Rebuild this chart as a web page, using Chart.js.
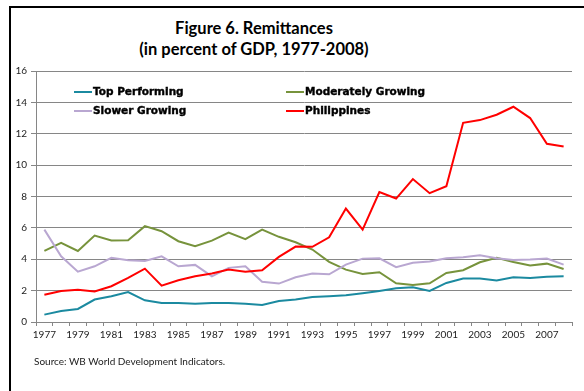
<!DOCTYPE html>
<html>
<head>
<meta charset="utf-8">
<script src="https://cdn.jsdelivr.net/npm/chart.js@4/dist/chart.umd.min.js"></script>
<style>
    html, body { margin: 0; padding: 0; background: #fff; }
    #wrap { position: relative; width: 584px; height: 391px; overflow: hidden; }
    #frame { position: absolute; left: 9px; top: 6px; width: 600px; height: 400px;
             border-left: 2.5px solid #000; border-top: 2.5px solid #000; }
    #title { position: absolute; left: 104px; width: 300px; top: 18px; text-align: center;
             font-family: Lato, sans-serif; font-weight: bold; font-size: 16.5px; line-height: 21px; color: #000; }
    #source { position: absolute; left: 34px; top: 355px; font-family: Lato, sans-serif;
              font-size: 10px; color: #222; }
    canvas { position: absolute; left: 0; top: 0; }
</style>
</head>
<body>
<div id="wrap">
    <div id="frame"></div>
    <div id="title">Figure 6. Remittances<br>(in percent of GDP, 1977-2008)</div>
    <canvas id="remit-chart" width="584" height="391"></canvas>
    <div id="source">Source: WB World Development Indicators.</div>
</div>
<script>
const years = [1977, 1978, 1979, 1980, 1981, 1982, 1983, 1984, 1985, 1986, 1987, 1988, 1989, 1990, 1991, 1992,
    1993, 1994, 1995, 1996, 1997, 1998, 1999, 2000, 2001, 2002, 2003, 2004, 2005, 2006, 2007, 2008];

const topPerforming = [0.47, 0.70, 0.83, 1.43, 1.64, 1.91, 1.38, 1.21, 1.21, 1.17, 1.21, 1.21, 1.17, 1.09, 1.34, 1.43,
    1.60, 1.64, 1.70, 1.83, 1.98, 2.15, 2.21, 1.98, 2.49, 2.77, 2.77, 2.64, 2.85, 2.81, 2.89, 2.91];
const moderatelyGrowing = [4.53, 5.04, 4.53, 5.51, 5.19, 5.21, 6.11, 5.79, 5.15, 4.83, 5.19, 5.70, 5.28, 5.89, 5.43, 5.08,
    4.62, 3.83, 3.34, 3.06, 3.17, 2.47, 2.36, 2.47, 3.13, 3.30, 3.81, 4.09, 3.83, 3.60, 3.72, 3.38];
const slowerGrowing = [5.89, 4.19, 3.21, 3.55, 4.09, 3.94, 3.89, 4.19, 3.55, 3.64, 2.91, 3.45, 3.55, 2.57, 2.45, 2.85,
    3.09, 3.04, 3.66, 4.04, 4.06, 3.49, 3.77, 3.85, 4.06, 4.13, 4.26, 4.06, 3.96, 3.98, 4.04, 3.66];
const philippines = [1.74, 1.98, 2.06, 1.94, 2.28, 2.81, 3.40, 2.32, 2.66, 2.91, 3.09, 3.34, 3.21, 3.30, 4.15, 4.81,
    4.79, 5.40, 7.23, 5.89, 8.28, 7.87, 9.11, 8.21, 8.66, 12.70, 12.87, 13.21, 13.72, 13.00, 11.36, 11.19];

const seriesNames = ["Top Performing", "Moderately Growing", "Slower Growing", "Philippines"];
const seriesColors = ["#1b8aa0", "#77933c", "#b9a7d1", "#ff0000"];

function makeDataset(i, values, order) {
    return {
        label: seriesNames[i],
        data: values,
        borderColor: seriesColors[i],
        backgroundColor: seriesColors[i],
        borderWidth: 2,
        pointRadius: 0,
        tension: 0,
        order: order
    };
}

// two-column legend drawn inside the plot
const cornerLegend = {
    id: 'cornerLegend',
    afterDatasetsDraw(chart) {
        const ctx = chart.ctx;
        const colX = [74, 286];
        const rowY = [92, 111];
        ctx.save();
        ctx.font = 'bold 10.5px "DejaVu Sans", sans-serif';
        ctx.textBaseline = 'middle';
        ctx.fillStyle = '#000';
        ctx.strokeStyle = '#000';
        chart.data.datasets.forEach((ds, i) => {
            const x = colX[i % 2];
            const y = rowY[Math.floor(i / 2)];
            ctx.strokeStyle = ds.borderColor;
            ctx.lineWidth = 2;
            ctx.beginPath();
            ctx.moveTo(x, y);
            ctx.lineTo(x + 18, y);
            ctx.stroke();
            ctx.fillText(ds.label, x + 19, y);
            // a hair of outline makes the text as heavy as a black face
            ctx.strokeStyle = '#000';
            ctx.lineWidth = 0.4;
            ctx.strokeText(ds.label, x + 19, y);
        });
        ctx.restore();
    }
};

new Chart(document.getElementById('remit-chart'), {
    type: 'line',
    data: {
        labels: years,
        datasets: [
            makeDataset(0, topPerforming, 2),
            makeDataset(1, moderatelyGrowing, 3),
            makeDataset(2, slowerGrowing, 1),
            makeDataset(3, philippines, 0)
        ]
    },
    options: {
        responsive: false,
        animation: false,
        layout: { padding: { left: 10, top: 71, right: 12, bottom: 49 } },
        plugins: {
            legend: { display: false },
            tooltip: { enabled: false }
        },
        scales: {
            x: {
                offset: true,
                afterFit: (scale) => { scale.height = 20; },
                grid: { offset: true, drawOnChartArea: false, tickLength: 4, color: '#868686' },
                border: { color: '#868686' },
                ticks: {
                    autoSkip: false,
                    maxRotation: 0,
                    padding: 3,
                    color: '#222',
                    font: { family: 'Lato', size: 10 },
                    callback: function (value, index) {
                        return index % 2 === 0 ? this.getLabelForValue(value) : '';
                    }
                }
            },
            y: {
                min: 0,
                max: 16,
                afterFit: (scale) => { scale.width = 26; },
                grid: { color: '#868686', tickLength: 5 },
                border: { color: '#868686' },
                ticks: {
                    stepSize: 2,
                    padding: 4,
                    color: '#222',
                    font: { family: 'Lato', size: 10 }
                }
            }
        }
    },
    plugins: [cornerLegend]
});
</script>
</body>
</html>
